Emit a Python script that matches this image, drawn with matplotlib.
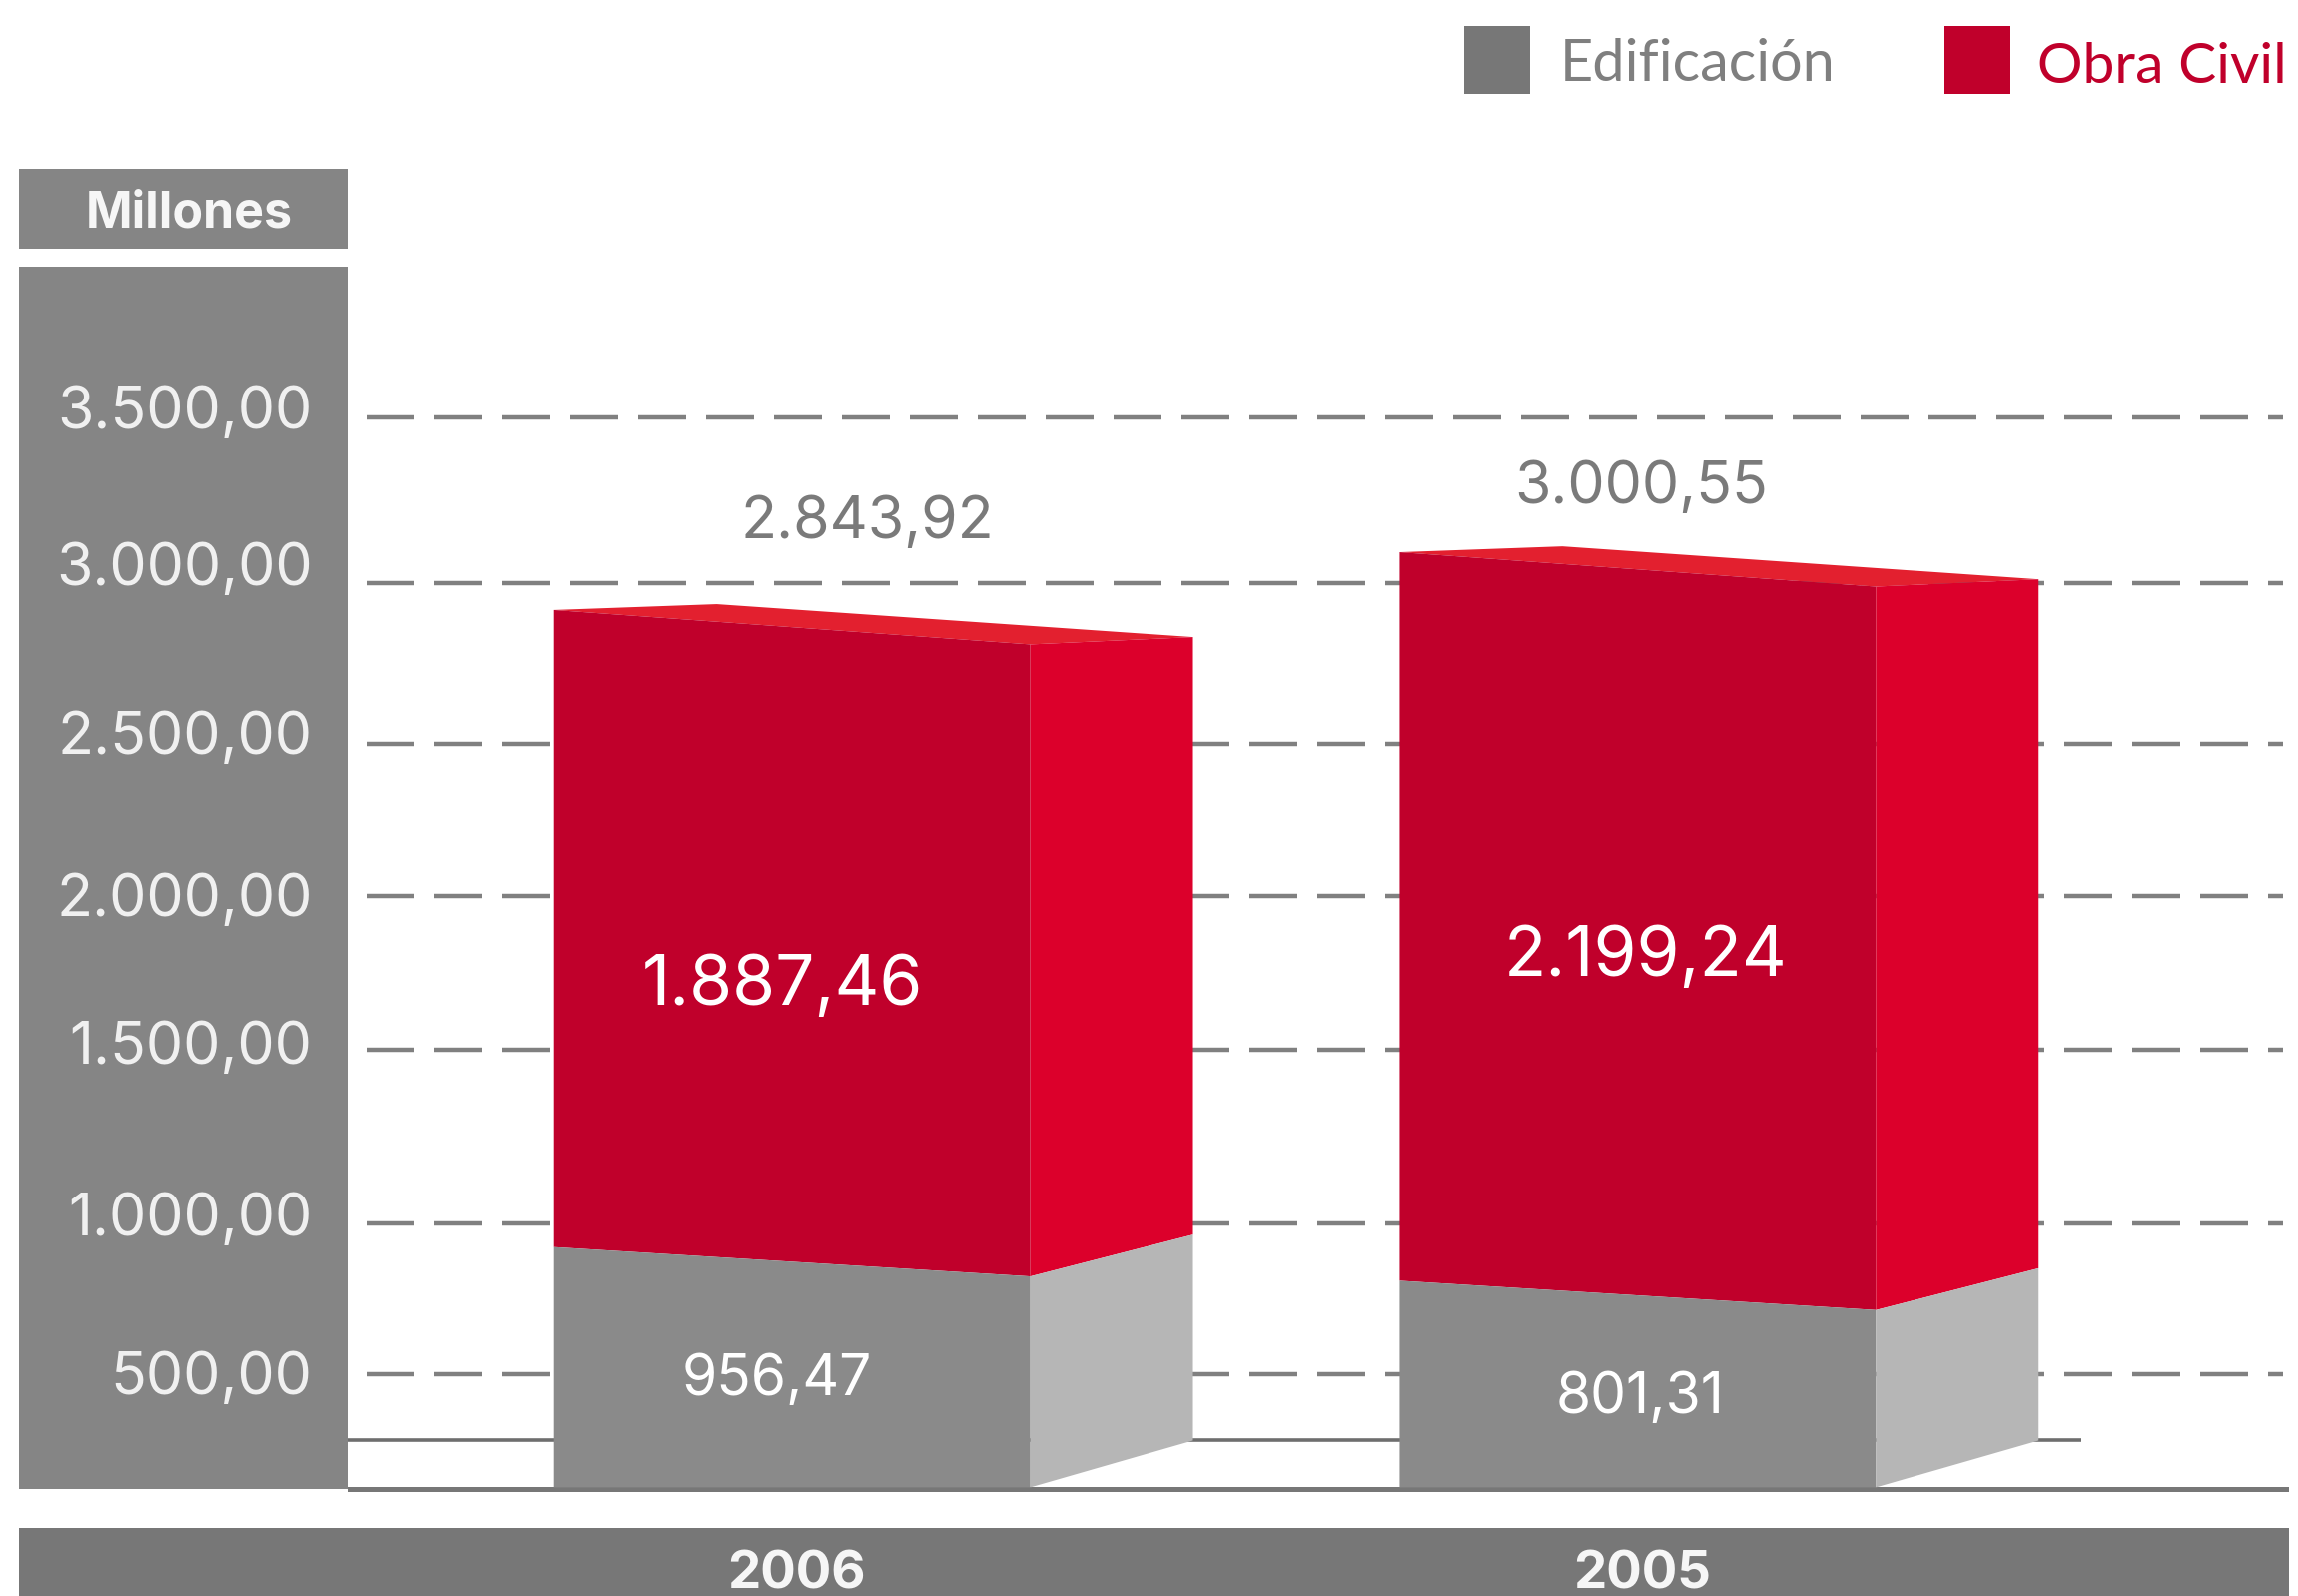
import matplotlib
matplotlib.use('Agg')
import matplotlib.pyplot as plt
from matplotlib.patches import Rectangle
from matplotlib.transforms import ScaledTranslation
import numpy as np

plt.rcParams['font.family'] = ['Inter', 'Lato', 'DejaVu Sans']

years = ['2006', '2005']
edificacion = [956.47, 801.31]
obra_civil = [1887.46, 2199.24]
totales = [2843.92, 3000.55]
ticks = [500, 1000, 1500, 2000, 2500, 3000, 3500]

# layout is measured on a 1568x1089 copy of the picture
W, H = 1568.0, 1089.0
GREY = '#808080'
RED = '#c0002b'


def es(v):
    return f'{v:,.2f}'.replace(',', '#').replace('.', ',').replace('#', '.')


# the printed axis is not regular, so the scale goes through the drawn lines
scale_vals = np.array([-487, 0, 500, 1000, 1500, 2000, 2500, 3000, 3500, 4809], dtype=float)
scale_px = np.array([1089, 983, 938, 835, 716, 611, 508, 398, 285, 0], dtype=float)


def forward(v):
    return np.interp(v, scale_vals, -scale_px)


def inverse(y):
    return np.interp(y, -scale_px, scale_vals)


def up(v, p):
    # value p picture pixels above v
    return inverse(forward(v) + p)


fig = plt.figure(figsize=(23.01, 15.98), dpi=100, facecolor='white')
ax = fig.add_axes([0, 0, 1, 1])
ax.patch.set_visible(False)
ax.set_yscale('function', functions=(forward, inverse))
ax.set_ylim(-487, 4809)
ax.set_xlim((0 - 540.5) / 577, (W - 540.5) / 577)
for s in ax.spines.values():
    s.set_visible(False)
ax.set_axisbelow(False)


def sx(px):
    return (px - 540.5) / 577


def box(x0, y0, x1, y1, color, z=1):
    ax.add_patch(Rectangle((x0 / W, 1 - y1 / H), (x1 - x0) / W, (y1 - y0) / H,
                           transform=ax.transAxes, facecolor=color, edgecolor='none', zorder=z))


def label(px, py, txt, color, size, weight='normal', ha='center', family=None):
    ax.text(px / W, 1 - py / H, txt, transform=ax.transAxes, color=color, fontsize=size,
            fontweight=weight, ha=ha, va='center', zorder=5, family=family)


# panels
box(13, 115, 237, 170, '#858585')
box(13, 182, 237, 1016, '#858585')
box(13, 1043, 1562, 1089, '#777777')
box(237, 1015, 1562, 1018, '#777777')
label(129, 146, 'Millones', '#f6f6f6', 36, 'bold')

# legend
box(999, 18, 1044, 64, '#777777')
box(1327, 18, 1372, 64, RED)
label(1064, 44, 'Edificación', '#7f7f7f', 41.5, ha='left', family=['Lato', 'DejaVu Sans'])
label(1390, 46, 'Obra Civil', RED, 41, ha='left', family=['Lato', 'DejaVu Sans'])

# dashed lines and base line
ax.hlines(ticks, sx(250), sx(1558), color=GREY, lw=3.2, linestyle=(0, (10.8, 4.5)), zorder=1.5)
ax.hlines(0, sx(237), sx(1420), color='#6e6e6e', lw=2.6, zorder=1.5)

# axis labels, sitting a little above their lines
ax.set_yticks(ticks)
ax.set_yticklabels([es(t) for t in ticks])
ax.tick_params(axis='y', length=0, direction='in', pad=-225, labelsize=42.5, labelcolor='#f0f0f0')
nudge = [1, 7, 5, 1, 8, 13, 7]
for lab, n in zip(ax.get_yticklabels(), nudge):
    lab.set_transform(lab.get_transform() + ScaledTranslation(0, n * 1.0568 / 72, fig.dpi_scale_trans))

ax.set_xticks([0.005, 1.005])
ax.set_xticklabels(years)
ax.tick_params(axis='x', length=0, direction='in', pad=-33, labelsize=38, labelcolor='#f6f6f6')
for lab in ax.get_xticklabels():
    lab.set_fontweight('bold')

# bars
w = 325 / 577
d = 111 / 577
floor = -147
top_shift = [-2.5, 2.5]
seam_shift = [-4.5, 4.5]
for i in range(len(years)):
    x0, x1, x2 = i - w / 2, i + w / 2, i + w / 2 + d
    t = totales[i]
    e = edificacion[i]
    st, ss = top_shift[i], seam_shift[i]
    t_fl, t_ap, t_br, t_fr = up(t, 18.5 + st), up(t, 22.5 + st), up(t, st), up(t, -5 + st)
    s_fl, s_fr, s_br = up(e, -2.5 + ss), up(e, -22.5 + ss), up(e, 6 + ss)
    ax.fill([x0, x0 + d, x2, x1], [t_fl, t_ap, t_br, t_fr], color='#e3202f', lw=0, zorder=3)
    ax.fill([x0, x1, x1, x0], [t_fl, t_fr, s_fr, s_fl], color=RED, lw=0, zorder=3)
    ax.fill([x1, x2, x2, x1], [t_fr, t_br, s_br, s_fr], color='#dc002b', lw=0, zorder=3)
    ax.fill([x0, x1, x1, x0], [s_fl, s_fr, floor, floor], color='#8a8a8a', lw=0, zorder=3)
    ax.fill([x1, x2, x2, x1], [s_fr, s_br, 0, floor], color='#b6b6b6', lw=0, zorder=3)

# value labels
label(592, 357, es(totales[0]), '#7a7a7a', 42.5)
label(1120, 333, es(totales[1]), '#7a7a7a', 42.5)
label(534, 673, es(obra_civil[0]), 'white', 50)
label(1123, 653, es(obra_civil[1]), 'white', 50)
label(530, 942, es(edificacion[0]), 'white', 41)
label(1119, 954, es(edificacion[1]), 'white', 41)

fig.savefig('out.png', dpi=100)
